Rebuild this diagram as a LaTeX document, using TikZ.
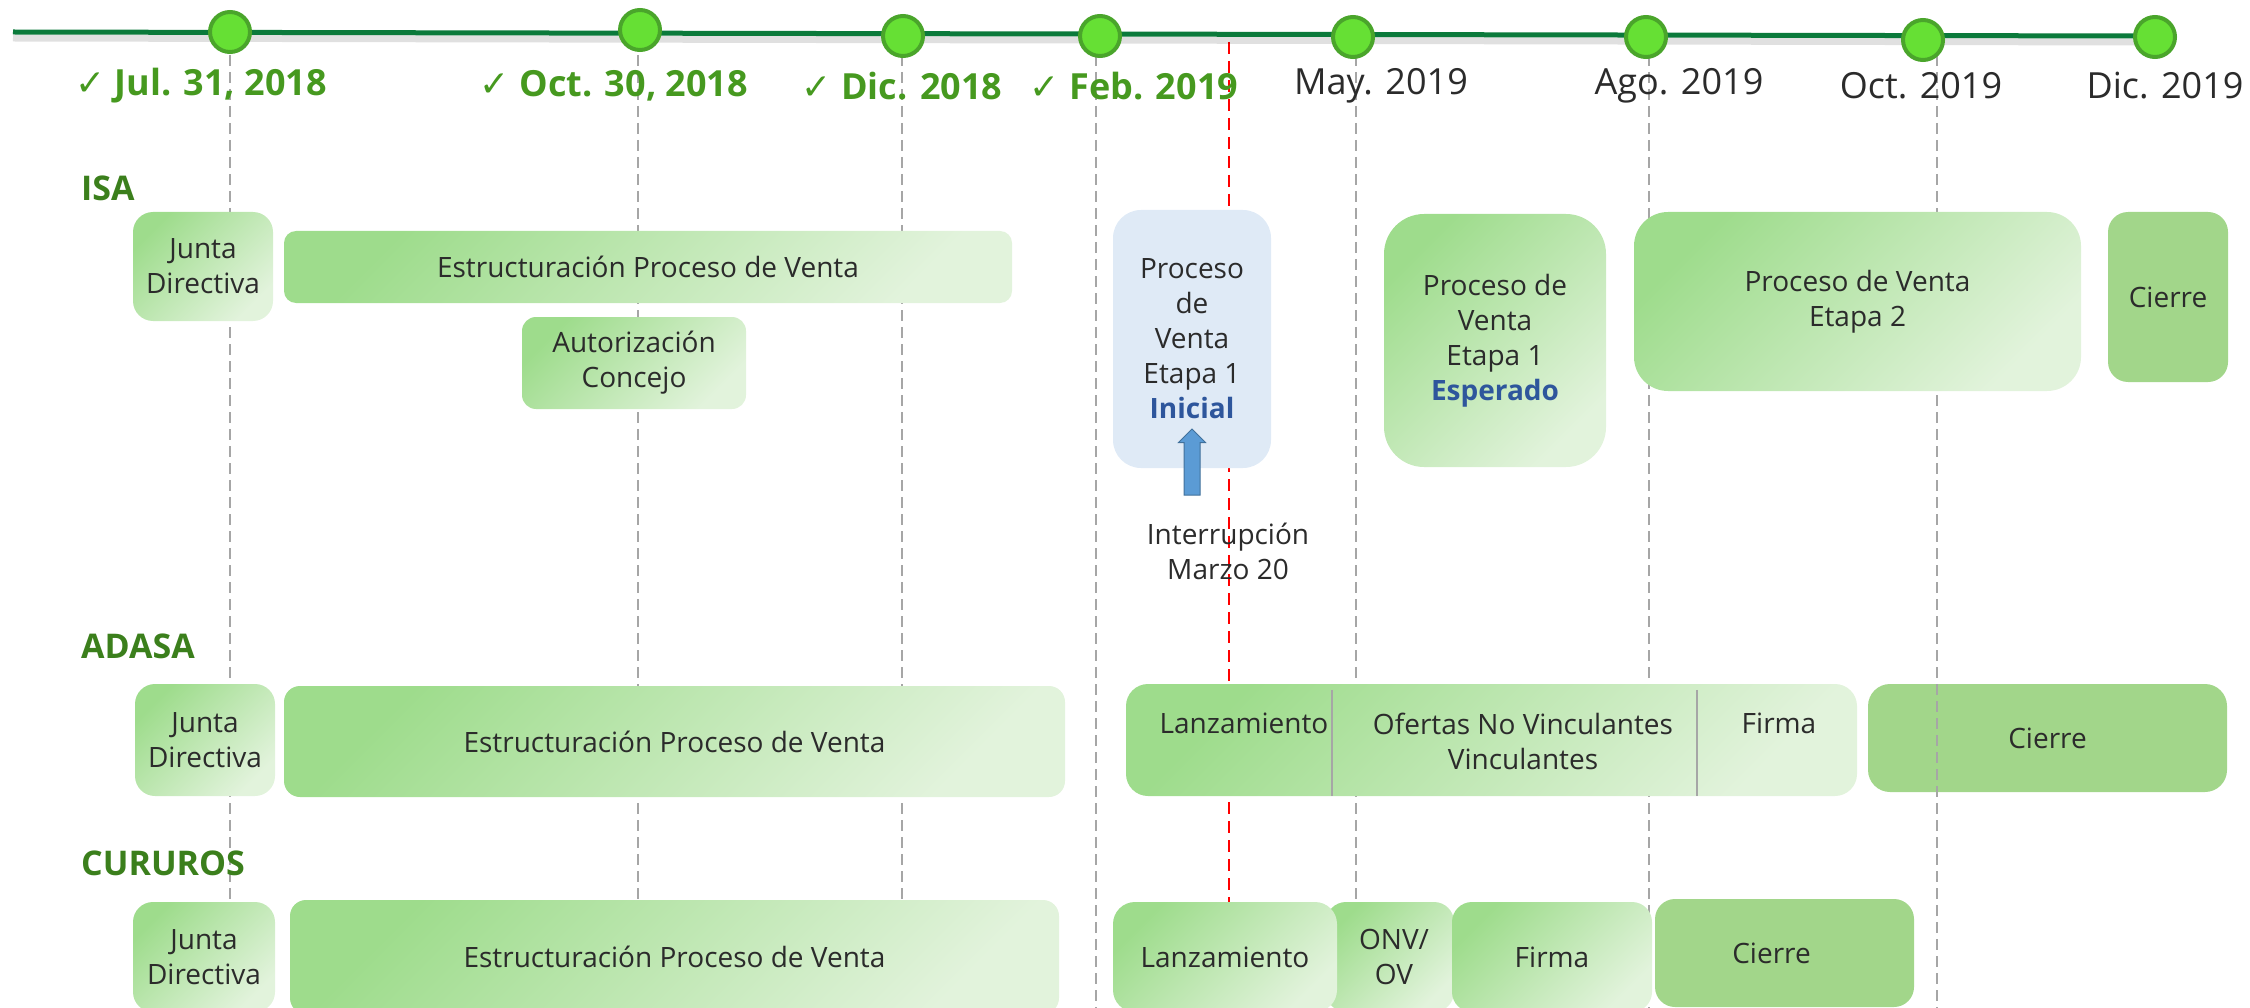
\documentclass[tikz,border=0pt]{standalone}
\usepackage{fontspec}
\setmainfont{Open Sans}
\newfontfamily\symfont{DejaVu Sans}
\usetikzlibrary{shapes, positioning}
\definecolor{lineGreen}{HTML}{0B7A3B}
\definecolor{dotFill}{HTML}{66E034}
\definecolor{dotBorder}{HTML}{4AA52B}
\definecolor{doneGreen}{HTML}{46991F}
\definecolor{rowGreen}{HTML}{3B7F1C}
\definecolor{textGray}{HTML}{2B2B2B}
\definecolor{guideGray}{HTML}{A6A6A6}
\definecolor{phaseDark}{HTML}{9EDC8C}
\definecolor{phaseLight}{HTML}{E2F3DC}
\definecolor{phaseSolid}{HTML}{A2D68A}
\definecolor{phaseBlue}{HTML}{DFEAF6}
\definecolor{noteBlue}{HTML}{2E569C}
\definecolor{arrowBlue}{HTML}{5B9BD5}
\definecolor{arrowEdge}{HTML}{41719C}
\newcommand\BoxFont{\fontsize{28}{35}\selectfont}
\newcommand\DateFont{\fontsize{36}{42}\selectfont}
\newcommand\RowFont{\fontsize{34}{40}\selectfont}
\newcommand\chk{{\symfont ✓}}
\tikzstyle{timeline} = [line width=5pt, lineGreen]
\tikzstyle{dot} = [circle, fill=dotFill, draw=dotBorder, line width=4pt, minimum size=40pt, inner sep=0]
\tikzstyle{guide} = [guideGray, line width=1.6pt, dash pattern=on 11pt off 6pt]
\tikzstyle{stopline} = [red, line width=2pt, dash pattern=on 12pt off 7pt]
\tikzstyle{donedate} = [text=doneGreen, font=\DateFont\bfseries, inner sep=0]
\tikzstyle{duedate} = [text=textGray, font=\DateFont, inner sep=0]
\tikzstyle{rowlabel} = [text=rowGreen, font=\RowFont\bfseries, anchor=west, inner sep=0]
\tikzstyle{phase} = [rectangle, rounded corners=16pt, top color=phaseDark, bottom color=phaseLight, shading angle=45,
                     text=textGray, font=\BoxFont, align=center, inner sep=0]
\tikzstyle{current} = [rectangle, rounded corners=28pt, fill=phaseBlue, text=textGray, font=\BoxFont, align=center, inner sep=0]
\tikzstyle{closing} = [rectangle, rounded corners=20pt, fill=phaseSolid, text=textGray, font=\BoxFont, align=center, inner sep=0]
\tikzstyle{label} = [text=textGray, font=\BoxFont, align=center, inner sep=0]

\begin{document}
\begin{tikzpicture}[x=1pt, y=-1pt]
\useasboundingbox (0,0) rectangle (2250,1008);

\draw[guide] (230,55) -- (230,1008);
\draw[guide] (638,55) -- (638,1008);
\draw[guide] (902,55) -- (902,1008);
\draw[guide] (1096,55) -- (1096,1008);
\draw[guide] (1356,55) -- (1356,1008);
\draw[guide] (1649,55) -- (1649,1008);
\draw[guide] (1937,55) -- (1937,1008);
\draw[stopline] (1229,42) -- (1229,905);

\coordinate (LineStart) at (13,32);
\coordinate (LineEnd) at (2150,36);
\draw[line width=7pt, black, opacity=0.12] ([yshift=-6pt]LineStart) -- ([yshift=-6pt]LineEnd);
\draw[timeline] (LineStart) -- (LineEnd);

\node (DotJul) [dot] at (230,32) {};
\node (DotOct) [dot] at (640,30) {};
\node (DotDic) [dot] at (903,36) {};
\node (DotFeb) [dot] at (1100,36) {};
\node (DotMay) [dot] at (1353,37) {};
\node (DotAgo) [dot] at (1646,37) {};
\node (DotOctB) [dot] at (1923,40) {};
\node (DotDicB) [dot] at (2155,37) {};

\node (DateJul) [donedate] at (201,86) {\chk\ Jul. 31, 2018};
\node (DateOct) [donedate] at (614,86) {\chk\ Oct. 30, 2018};
\node (DateDic) [donedate] at (902,86) {\chk\ Dic. 2018};
\node (DateFeb) [donedate] at (1134,86) {\chk\ Feb. 2019};
\node (DateMay) [duedate] at (1381,86) {May. 2019};
\node (DateAgo) [duedate] at (1679,86) {Ago. 2019};
\node (DateOctB) [duedate] at (1921,86) {Oct. 2019};
\node (DateDicB) [duedate] at (2165,86) {Dic. 2019};

\node (RowIsa) [rowlabel] at (81,188) {ISA};
\node (RowAdasa) [rowlabel] at (81,646) {ADASA};
\node (RowCururos) [rowlabel] at (81,863) {CURUROS};

\node (IsaJunta) [phase, rounded corners=20pt, minimum width=140pt, minimum height=109pt] at (203,266.5) {Junta\\Directiva};
\node (IsaEstructura) [phase, rounded corners=12pt, minimum width=728pt, minimum height=72pt] at (648,267) {Estructuración Proceso de Venta};
\node (IsaAutoriza) [phase, rounded corners=14pt, minimum width=224pt, minimum height=92pt] at (634,363) {Autorización\\Concejo};
\node (IsaInicial) [current, minimum width=158pt, minimum height=258pt] at (1192,339)
      {Proceso\\de\\Venta\\Etapa 1\\{\bfseries\color{noteBlue}Inicial}};
\node (IsaEsperado) [phase, rounded corners=40pt, minimum width=222pt, minimum height=253pt] at (1495,340.5)
      {Proceso de\\Venta\\Etapa 1\\{\bfseries\color{noteBlue}Esperado}};
\node (IsaEtapaDos) [phase, rounded corners=34pt, minimum width=447pt, minimum height=179pt] at (1857.5,301.5) {Proceso de Venta\\Etapa 2};
\node (IsaCierre) [closing, minimum width=120pt, minimum height=170pt] at (2168,297) {Cierre};

\node (StopArrow) [single arrow, rotate=90, fill=arrowBlue, draw=arrowEdge, line width=1pt, inner xsep=0, inner ysep=7.5pt,
      minimum height=66pt, single arrow head extend=5.5pt] at (1192,466) {};
\node (StopNote) [label] at (1228,551) {Interrupción\\Marzo 20};

\node (AdasaJunta) [phase, rounded corners=20pt, minimum width=140pt, minimum height=112pt] at (205,740) {Junta\\Directiva};
\node (AdasaEstructura) [phase, minimum width=781pt, minimum height=111pt] at (674.5,741.5) {Estructuración Proceso de Venta};
\node (AdasaVenta) [phase, rounded corners=22pt, minimum width=731pt, minimum height=112pt] at (1491.5,740) {};
\node (AdasaCierre) [closing, rounded corners=22pt, minimum width=359pt, minimum height=108pt] at (2047.5,738) {Cierre};
\draw[guide] (1937,684) -- (1937,792);

\coordinate (SepA) at (1332,0);
\coordinate (SepB) at (1697,0);
\draw[gray!70, line width=1.2pt] ([yshift=-6pt]SepA |- AdasaVenta.north) -- (SepA |- AdasaVenta.south);
\draw[gray!70, line width=1.2pt] ([yshift=-6pt]SepB |- AdasaVenta.north) -- (SepB |- AdasaVenta.south);
\node (AdasaLanza) [label] at (1244,723) {Lanzamiento};
\node (AdasaOfertas) [label] at (1523,741) {Ofertas No Vinculantes\\Vinculantes};
\node (AdasaFirma) [label] at (1779,723) {Firma};

\node (CururosJunta) [phase, rounded corners=20pt, minimum width=142pt, minimum height=110pt] at (204,957) {Junta\\Directiva};
\node (CururosEstructura) [phase, minimum width=769pt, minimum height=114pt] at (674.5,957) {Estructuración Proceso de Venta};
\node (CururosOnv) [phase, rounded corners=20pt, minimum width=128pt, minimum height=110pt] at (1390,957) {\hspace*{8pt}ONV/\\\hspace*{8pt}OV};
\node (CururosLanza) [phase, rounded corners=22pt, minimum width=224pt, minimum height=110pt] at (1225,957) {Lanzamiento};
\node (CururosFirma) [phase, rounded corners=20pt, minimum width=200pt, minimum height=110pt] at (1552,957) {Firma};
\node (CururosCierre) [closing, minimum width=259pt, minimum height=108pt] at (1784.5,953) {Cierre\hspace*{26pt}};
\end{tikzpicture}
\end{document}
